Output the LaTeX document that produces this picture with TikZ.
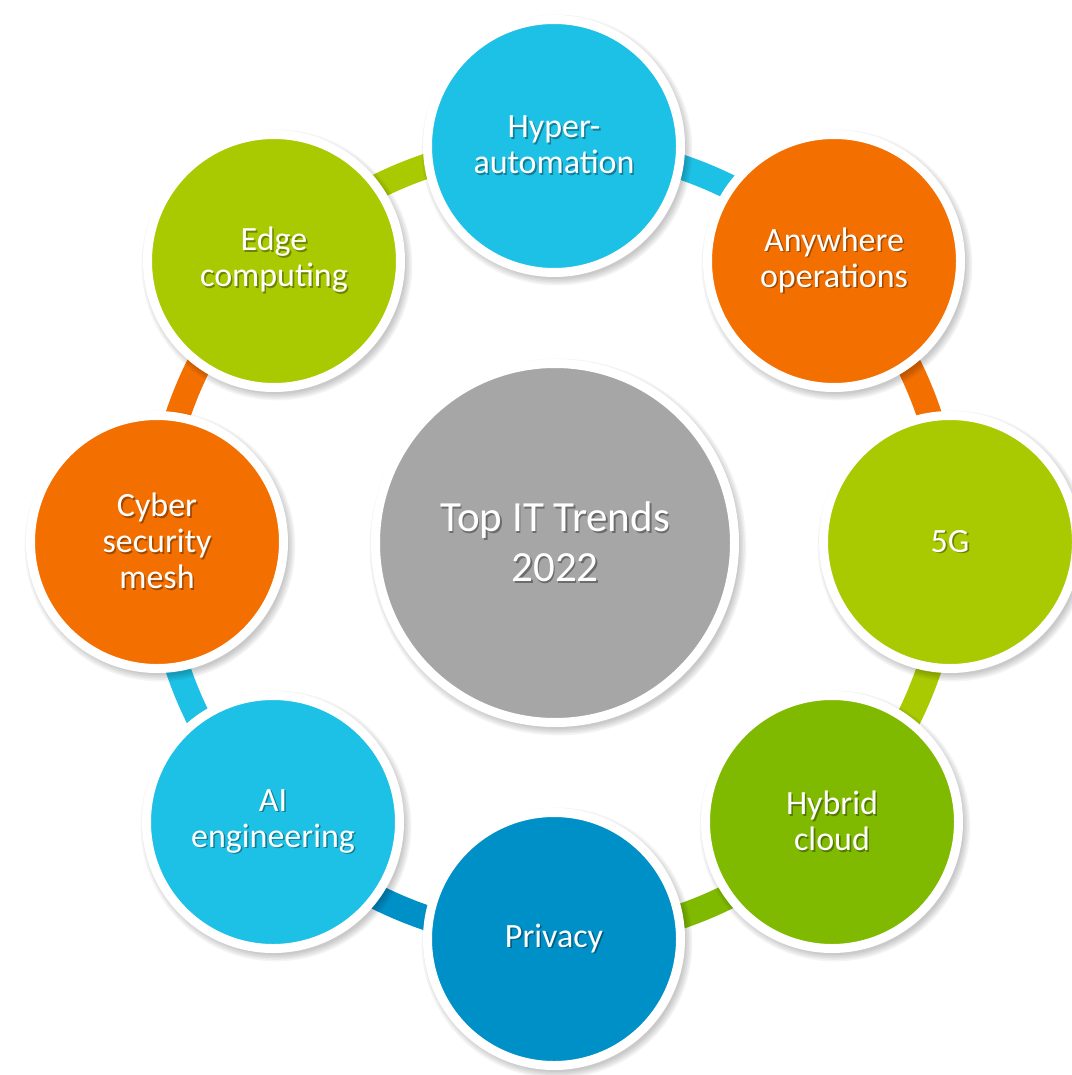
\documentclass[tikz,border=0pt]{standalone}
\usepackage{fontspec}
\setmainfont{Carlito}
\usetikzlibrary{backgrounds}
\definecolor{cCyan}{HTML}{1EC1E6}
\definecolor{cOrange}{HTML}{F36F00}
\definecolor{cLime}{HTML}{A9CA00}
\definecolor{cGreen}{HTML}{7FBA00}
\definecolor{cBlue}{HTML}{0090C8}
\definecolor{cGray}{HTML}{A6A6A6}
\colorlet{sh}{black}
\newcommand\stx[1]{\rlap{\kern1.6pt\raisebox{-1.8pt}{\textcolor{sh}{#1}}}#1}
\tikzset{
  bub/.style={circle, fill=#1, draw=white, line width=9pt, minimum size=253pt,
    inner sep=0pt, text=white, align=center,
    font=\fontsize{34}{36}\selectfont,
    execute at begin node={\colorlet{sh}{#1!65!black}}},
  hub/.style={bub=#1, minimum size=359pt, font=\fontsize{43}{50}\selectfont},
  seg/.style={line width=25pt, draw=#1},
  softshadow/.style={fill=black, opacity=0.045},
}
\begin{document}
\begin{tikzpicture}[x=1pt,y=-1pt]
\useasboundingbox (0,0) rectangle (1071,1075);
\node[hub=cGray] (ctr) at (555,543) {\stx{Top IT Trends}\\\stx{2022}};
\node[bub=cCyan]   (hyp) at (554,146) {\stx{Hyper-}\\\stx{automation}};
\node[bub=cOrange] (any) at (834,261) {\stx{Anywhere}\\\stx{operations}};
\node[bub=cLime]   (gfv) at (950,542) {\stx{5G}};
\node[bub=cGreen]  (hyb) at (832,822) {\stx{Hybrid}\\\stx{cloud}};
\node[bub=cBlue]   (pri) at (554,939) {\stx{Privacy}};
\node[bub=cCyan]   (aie) at (273,822) {\stx{AI}\\\stx{engineering}};
\node[bub=cOrange] (cyb) at (157,542) {\stx{Cyber}\\\stx{security}\\\stx{mesh}};
\node[bub=cLime]   (edg) at (274,261) {\stx{Edge}\\\stx{computing}};
\begin{scope}[on background layer]
  \fill[white] (0,0) rectangle (1071,1075);
  \draw[seg=cCyan]   (hyp.center) arc[start angle=-90, end angle=-45, radius=396];
  \draw[seg=cOrange] (any.center) arc[start angle=-45, end angle=0,   radius=396];
  \draw[seg=cLime]   (gfv.center) arc[start angle=0,   end angle=45,  radius=396];
  \draw[seg=cGreen]  (hyb.center) arc[start angle=45,  end angle=90,  radius=396];
  \draw[seg=cBlue]   (pri.center) arc[start angle=90,  end angle=135, radius=396];
  \draw[seg=cCyan]   (aie.center) arc[start angle=135, end angle=180, radius=396];
  \draw[seg=cOrange] (cyb.center) arc[start angle=180, end angle=225, radius=396];
  \draw[seg=cLime]   (edg.center) arc[start angle=225, end angle=270, radius=396];
  \foreach \n in {hyp,any,gfv,hyb,pri,aie,cyb,edg}
    \foreach \k in {0,...,4}
      \fill[softshadow] ([shift={(3,4)}]\n.center) circle[radius=129+1.6*\k];
  \foreach \k in {0,...,4}
    \fill[softshadow] ([shift={(3,4)}]ctr.center) circle[radius=182+1.6*\k];
\end{scope}
\end{tikzpicture}
\end{document}
